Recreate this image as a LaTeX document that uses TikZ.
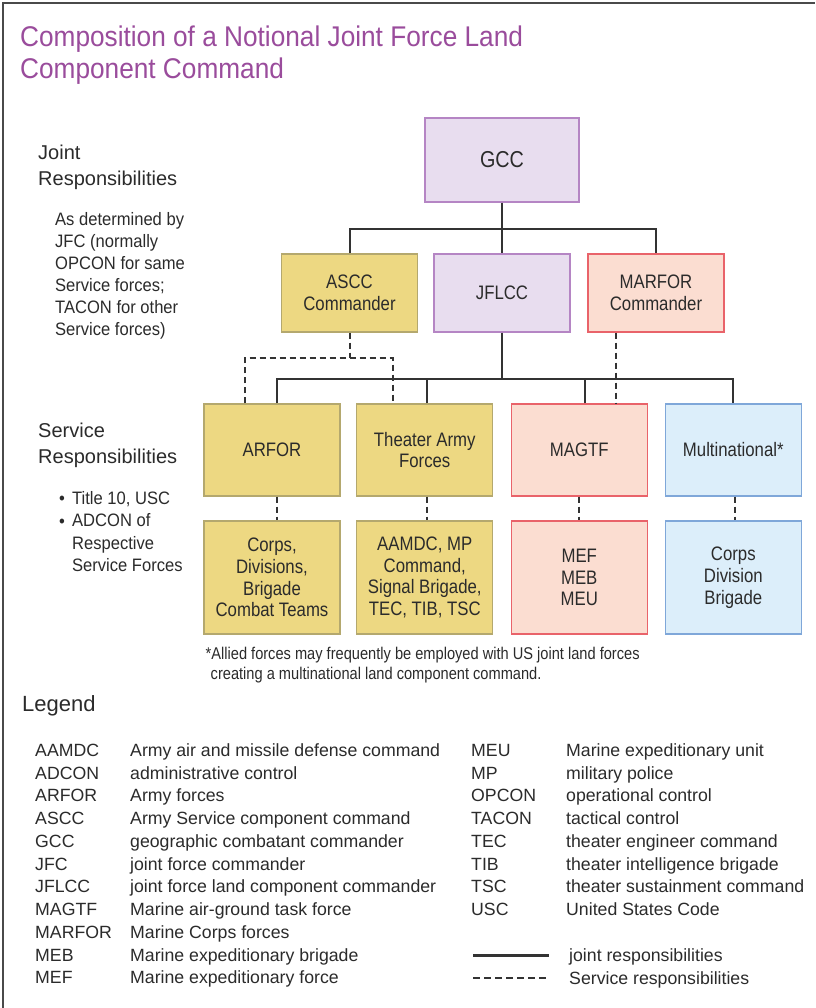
\documentclass[tikz,border=0pt]{standalone}
\usepackage{fontspec}
\setmainfont{Liberation Sans}
\newfontfamily\narrowsans[FakeStretch=0.86]{Liberation Sans}
\newfontfamily\semisans[FakeStretch=0.92]{Liberation Sans}
\usetikzlibrary{calc}

\definecolor{titlepurple}{HTML}{9A4C9C}
\definecolor{ink}{HTML}{2B2B2B}
\definecolor{connector}{HTML}{333333}
\definecolor{framegray}{HTML}{4A4A4A}
\definecolor{lavfill}{HTML}{E8DDEF}
\definecolor{lavline}{HTML}{B585C4}
\definecolor{yelfill}{HTML}{EDD882}
\definecolor{yelline}{HTML}{B4A86E}
\definecolor{pchfill}{HTML}{FBDDD1}
\definecolor{pchline}{HTML}{E9636A}
\definecolor{blufill}{HTML}{DCEEFA}
\definecolor{bluline}{HTML}{7FA7D9}

\tikzset{
  every node/.style={text=ink, inner sep=0pt},
  orgbox/.style={draw, line width=1.3pt, inner sep=0pt, align=center,
    font=\narrowsans\fontsize{19.5}{21.8}\selectfont},
  upperbox/.style={orgbox, minimum width=136pt, minimum height=78pt},
  middlebox/.style={orgbox, minimum width=136pt, minimum height=92pt},
  lowerbox/.style={orgbox, minimum width=136pt, minimum height=113pt},
  lav/.style={fill=lavfill, draw=lavline},
  yel/.style={fill=yelfill, draw=yelline},
  pch/.style={fill=pchfill, draw=pchline},
  blu/.style={fill=blufill, draw=bluline},
  joint/.style={draw=connector, line width=2pt},
  service/.style={draw=connector, line width=2pt, dash pattern=on 6.5pt off 3.5pt},
  titletext/.style={anchor=base west, text=titlepurple, font=\semisans\fontsize{28.5}{33}\selectfont},
  sidehead/.style={anchor=base west, font=\fontsize{20}{27}\selectfont},
  sidetext/.style={anchor=base west, font=\semisans\fontsize{18}{22}\selectfont},
  notetext/.style={anchor=base west, font=\narrowsans\fontsize{17}{20}\selectfont},
  legtext/.style={anchor=base west, font=\fontsize{17.7}{22}\selectfont},
}

\begin{document}
\begin{tikzpicture}[x=1pt, y=-1pt]
\useasboundingbox (0,0) rectangle (815,1008);
\fill[white] (0,0) rectangle (815,1008);

% page frame (left and top edges)
\draw[framegray, line width=2.5pt] (3,1008) -- (3,3) -- (815,3);

% title
\node[titletext] (title1) at (20,46.5) {Composition of a Notional Joint Force Land};
\node[titletext] (title2) at (20,79) {Component Command};

% joint responsibilities, left column
\node[sidehead] (jr1) at (38,159.5) {Joint};
\node[sidehead] (jr2) at (38,186) {Responsibilities};
\foreach \t [count=\i from 0] in {{As determined by},{JFC (normally},{OPCON for same},
    {Service forces;},{TACON for other},{Service forces)}}
  \node[sidetext] (jrt\i) at (55,225.5+21.9*\i) {\t};

% service responsibilities, left column
\node[sidehead] (sr1) at (38,437.5) {Service};
\node[sidehead] (sr2) at (38,463.5) {Responsibilities};
\node[sidetext] (bul1) at (59,504.5) {\textbullet};
\node[sidetext] (bul2) at (59,527) {\textbullet};
\foreach \t [count=\i from 0] in {{Title 10, USC},{ADCON of},{Respective},{Service Forces}}
  \node[sidetext] (srt\i) at (72,504.5+22.4*\i) {\t};

% command boxes
\node[orgbox, lav, minimum width=154pt, minimum height=84pt,
      font=\narrowsans\fontsize{23}{26}\selectfont] (gcc) at (502,160) {GCC};
\node[upperbox, yel] (ascc)   at (349.5,293) {ASCC\\Commander};
\node[upperbox, lav] (jflcc)  at (502,293)   {JFLCC};
\node[upperbox, pch] (marfor) at (656,293)   {MARFOR\\Commander};

\node[middlebox, yel] (arfor)   at (272,450)    {ARFOR};
\node[middlebox, yel] (theater) at (424.75,450) {Theater Army\\Forces};
\node[middlebox, pch] (magtf)   at (579.25,450) {MAGTF};
\node[middlebox, blu] (multi)   at (733.3,450)  {Multinational*};

\node[lowerbox, yel] (corps)  at (272,577.5)    {Corps,\\Divisions,\\Brigade\\Combat Teams};
\node[lowerbox, yel] (aamdc)  at (424.75,577.5) {AAMDC, MP\\Command,\\Signal Brigade,\\TEC, TIB, TSC};
\node[lowerbox, pch] (mef)    at (579.25,577.5) {MEF\\MEB\\MEU};
\node[lowerbox, blu] (mncorps) at (733.3,577.5) {Corps\\Division\\Brigade};

% joint lines from GCC
\coordinate (bus1) at ($(gcc.south)+(0,26)$);
\draw[joint] (gcc.south) -- (bus1);
\draw[joint] (ascc.north) |- (bus1) -| (marfor.north);
\draw[joint] (bus1) -- (jflcc.north);

% joint lines from JFLCC
\coordinate (bus2) at ($(jflcc.south)+(0,46)$);
\coordinate (jA) at ($(arfor.north)+(5.3,0)$);
\coordinate (jT) at ($(theater.north)+(2.3,0)$);
\coordinate (jM) at ($(magtf.north)+(5.8,0)$);
\draw[joint] (jflcc.south) -- (bus2);
\draw[joint] (jA) |- (bus2) -| (multi.north);
\draw[joint] (jT) -- (jT |- bus2);
\draw[joint] (jM) -- (jM |- bus2);

% service lines from ASCC and MARFOR
\coordinate (sv1) at ($(ascc.south)+(0,25)$);
\coordinate (sA) at ($(arfor.north west)+(42,0)$);
\coordinate (sT) at ($(theater.north west)+(36.5,0)$);
\draw[service] (ascc.south) -- (sv1);
\draw[service] (sA) |- (sv1) -| (sT);
\coordinate (sM) at ($(marfor.south west)+(29,0)$);
\draw[service] (sM) -- (sM |- magtf.north);

% service lines to subordinate forces
\draw[service] (arfor.south -| jA) -- (corps.north -| jA);
\draw[service] (theater.south -| jT) -- (aamdc.north -| jT);
\draw[service] (magtf.south) -- (mef.north);
\coordinate (sN) at ($(multi.south)+(1.2,0)$);
\draw[service] (sN) -- (sN |- mncorps.north);

% footnote
\node[notetext] (note1) at (205.5,659) {*Allied forces may frequently be employed with US joint land forces};
\node[notetext] (note2) at (210.5,679) {creating a multinational land component command.};

% legend
\node[anchor=base west, font=\fontsize{22}{26}\selectfont] (legend) at (22,711) {Legend};
\foreach \a/\d [count=\i from 0] in {
    AAMDC/Army air and missile defense command,
    ADCON/administrative control,
    ARFOR/Army forces,
    ASCC/Army Service component command,
    GCC/geographic combatant commander,
    JFC/joint force commander,
    JFLCC/joint force land component commander,
    MAGTF/Marine air-ground task force,
    MARFOR/Marine Corps forces,
    MEB/Marine expeditionary brigade,
    MEF/Marine expeditionary force} {
  \node[legtext] (la\i) at (35,756.3+22.75*\i) {\a};
  \node[legtext] (ld\i) at (130,756.3+22.75*\i) {\d};
}
\foreach \a/\d [count=\i from 0] in {
    MEU/Marine expeditionary unit,
    MP/military police,
    OPCON/operational control,
    TACON/tactical control,
    TEC/theater engineer command,
    TIB/theater intelligence brigade,
    TSC/theater sustainment command,
    USC/United States Code} {
  \node[legtext] (ra\i) at (471,756.3+22.75*\i) {\a};
  \node[legtext] (rd\i) at (566,756.3+22.75*\i) {\d};
}

% line key
\coordinate (kj1) at (473,955.3);
\coordinate (kj2) at (549,955.3);
\coordinate (ks1) at (473,977.8);
\coordinate (ks2) at (549,977.8);
\draw[connector, line width=2.6pt] (kj1) -- (kj2);
\draw[connector, line width=2.6pt, dash pattern=on 7pt off 4pt] (ks1) -- (ks2);
\node[legtext] (kjt) at (569,961.6) {joint responsibilities};
\node[legtext] (kst) at (569,984.1) {Service responsibilities};
\end{tikzpicture}
\end{document}
